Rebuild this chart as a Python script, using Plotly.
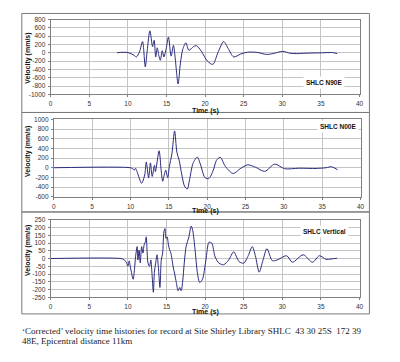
import plotly.graph_objects as go

# ---------------- data ----------------
t_n90e = [8.6, 9.0, 9.5, 10.0, 10.5, 10.8, 11.1, 11.5, 11.9, 12.25, 12.5, 12.85, 13.2, 13.4,
          13.6, 13.8, 14.0, 14.2, 14.45, 14.66, 14.96, 15.25, 15.6, 15.9, 16.1, 16.5, 16.8,
          17.1, 17.5, 17.9, 18.5, 18.9, 19.5, 20.3, 21.0, 21.65, 22.4, 23.0, 23.7, 24.6,
          25.5, 26.7, 28.0, 29.0, 30.0, 31.0, 31.8, 33.0, 35.2, 36.5, 37.1]
v_n90e = [0, 10, 12, 5, -30, -60, -100, 20, 270, -340, 50, 530, 150, 300,
          -100, 120, -60, -180, 50, -100, 100, 380, -80, 180, -80, -750, -250,
          80, 240, 60, 150, 170, 40, -200, -280, 0, 270, 100, -100, -30,
          15, 10, -40, -10, 35, -10, -20, -10, 0, 5, -20]

t_n00e = [0, 10.0, 10.3, 10.5, 10.65, 10.85, 11.45, 11.85, 12.06, 12.36, 12.6, 12.83, 13.13,
          13.25, 13.73, 14.0, 14.2, 14.4, 14.6, 14.85, 15.06, 15.4, 15.75, 16.05, 16.35,
          16.7, 17.04, 17.4, 17.7, 18.15, 18.7, 19.1, 19.7, 20.2, 20.8, 21.2, 21.7, 22.4,
          23.4, 24.3, 25.3, 26.3, 27.5, 28.8, 30.1, 32.0, 34.2, 35.5, 36.2, 37.0]
v_n00e = [0, 0, -20, -50, -10, -80, -320, -150, 120, -210, 100, -180, 50,
          -80, 350, -60, -280, -150, -50, -210, 20, 290, 760, 320, 150,
          -150, -380, -440, -250, 90, 220, 80, -200, -225, -50, 150, 215, 20,
          -120, -20, 60, 10, -75, 75, -20, -10, -15, 0, 20, -40]

t_vert = [0, 9.07, 9.5, 9.83, 10.0, 10.17, 10.34, 10.68, 10.85, 11.0, 11.2, 11.3, 11.45, 11.6,
          11.78, 11.95, 12.1, 12.27, 12.37, 12.5, 12.6, 12.8, 12.97, 13.1, 13.3, 13.43, 13.6,
          13.77, 13.94, 14.15, 14.32, 14.5, 14.66, 14.8, 14.93, 15.08, 15.25, 15.4, 15.57,
          15.85, 16.06, 16.27, 16.5, 16.7, 16.9, 17.1, 17.3, 17.54, 17.9, 18.2, 18.4, 18.7,
          19.0, 19.3, 19.66, 20.1, 20.5, 20.85, 21.3, 21.8, 22.4, 23.05, 23.7, 24.4, 25.0,
          25.6, 26.1, 26.5, 27.0, 27.5, 28.0, 28.7, 29.3, 30.56, 31.3, 32.7, 33.9, 34.8,
          35.65, 36.3, 37.1]
v_vert = [0, 0, -7, -28, -50, -15, -60, -134, -70, 14, 77, -10, 55, -28,
          77, 35, 88, 109, 140, 35, -28, -50, -10, -81, -218, -90, -28,
          24, -50, -187, -10, 35, 172, 193, 130, 140, 88, 56, 35,
          -50, -100, -155, -208, -187, -208, -145, -28, 77, 140, 210, 180, 56,
          -92, -155, -134, -10, 105, 100, 10, -30, -40, -10, 43, -20, -30,
          20, 77, 20, -88, -10, 64, -14, -10, 18, -24, 24, -24, 18,
          -5, -3, 2]

x_ticks = [0, 5, 10, 15, 20, 25, 30, 35, 40]
y1_ticks = [800, 600, 400, 200, 0, -200, -400, -600, -800, -1000]
y2_ticks = [1000, 800, 600, 400, 200, 0, -200, -400, -600]
y3_ticks = [250, 200, 150, 100, 50, 0, -50, -100, -150, -200, -250]

labels = ["SHLC N90E", "SHLC N00E", "SHLC Vertical"]
caption1 = "\u2018Corrected\u2019 velocity time histories for record at Site Shirley Library SHLC  43 30 25S  172 39"
caption2 = "48E, Epicentral distance 11km"

# ---------------- layout helpers ----------------
# The page body keeps its default 8px margin, so the figure is sized to fit
# the 400x362 window after that offset, and page pixels are mapped accordingly.
OFF = 8
W, H = 400 - OFF, 362 - OFF
def px(x):
    return (x - OFF) / W
def py(y):
    return 1 - (y - OFF) / H

LINE = "#2b2b7e"
GRID = "#c4c4c4"
TICKFONT = dict(family="Liberation Sans, Arial", size=6.5, color="#333333")

panels = [
    dict(t=t_n90e, v=v_n90e, yt=y1_ticks, yr=[-1000, 800], xd=[49.3, 363], yd=[15.7, 92],
         box=[9.5, 110.5], ttl_y=109.3, vel_y=55, lab=(327, 80)),
    dict(t=t_n00e, v=v_n00e, yt=y2_ticks, yr=[-600, 1000], xd=[52.5, 364], yd=[117.5, 196.5],
         box=[110.5, 212], ttl_y=211.3, vel_y=150, lab=(341, 125)),
    dict(t=t_vert, v=v_vert, yt=y3_ticks, yr=[-250, 250], xd=[49.3, 363], yd=[220, 299],
         box=[212, 316], ttl_y=314.3, vel_y=251, lab=(327, 232)),
]

fig = go.Figure()
shapes = []
annotations = []
for i, p in enumerate(panels, start=1):
    xa = "x" if i == 1 else f"x{i}"
    ya = "y" if i == 1 else f"y{i}"
    fig.add_trace(go.Scatter(x=p["t"], y=p["v"], mode="lines", xaxis=xa, yaxis=ya,
                             line=dict(color=LINE, width=1, shape="spline", smoothing=0.8),
                             showlegend=False, hoverinfo="skip"))
    xkey = "xaxis" if i == 1 else f"xaxis{i}"
    ykey = "yaxis" if i == 1 else f"yaxis{i}"
    fig.update_layout(**{
        xkey: dict(domain=[px(p["xd"][0]), px(p["xd"][1])], range=[0, 40],
                   tickvals=x_ticks, ticktext=[str(v) for v in x_ticks],
                   showgrid=True, gridcolor=GRID, gridwidth=1, zeroline=False,
                   showline=True, linecolor="#808080", linewidth=1, mirror=True,
                   ticks="outside", ticklen=2, tickcolor="#808080",
                   ticklabelstandoff=1, tickfont=TICKFONT,
                   anchor=ya, fixedrange=True),
        ykey: dict(domain=[py(p["yd"][1]), py(p["yd"][0])], range=p["yr"],
                   tickvals=p["yt"], ticktext=[str(v) for v in p["yt"]],
                   showgrid=True, gridcolor=GRID, gridwidth=1, zeroline=False,
                   showline=True, linecolor="#808080", linewidth=1, mirror=True,
                   ticks="outside", ticklen=2, tickcolor="#808080",
                   ticklabelstandoff=1, tickfont=TICKFONT,
                   anchor=xa, fixedrange=True),
    })
    shapes.append(dict(type="rect", xref="paper", yref="paper",
                       x0=px(20), x1=px(373), y0=py(p["box"][1]), y1=py(p["box"][0]),
                       line=dict(color="#7a7a7a", width=1), fillcolor="rgba(0,0,0,0)"))
    annotations.append(dict(text="<b>Time (s)</b>", xref="paper", yref="paper",
                            x=px(207), y=py(p["ttl_y"]), xanchor="center", yanchor="middle",
                            showarrow=False,
                            font=dict(family="Liberation Sans, Arial", size=7, color="#111111")))
    annotations.append(dict(text="<b>Velocity (mm/s)</b>", xref="paper", yref="paper",
                            x=px(26), y=py(p["vel_y"]), xanchor="center", yanchor="middle",
                            textangle=-90, showarrow=False,
                            font=dict(family="Liberation Sans, Arial", size=7, color="#111111")))
    annotations.append(dict(text="<b>" + labels[i - 1] + "</b>", xref="paper", yref="paper",
                            x=px(p["lab"][0]), y=py(p["lab"][1]), xanchor="center",
                            yanchor="middle", showarrow=False, bgcolor="white", borderpad=2,
                            font=dict(family="Liberation Sans Narrow, Liberation Sans, Arial",
                                      size=6.5, color="#111111")))

annotations.append(dict(text=caption1, xref="paper", yref="paper", x=px(18), y=py(333),
                        xanchor="left", yanchor="middle", showarrow=False,
                        font=dict(family="Liberation Serif, Times New Roman", size=9,
                                  color="#222222")))
annotations.append(dict(text=caption2, xref="paper", yref="paper", x=px(18), y=py(343.5),
                        xanchor="left", yanchor="middle", showarrow=False,
                        font=dict(family="Liberation Serif, Times New Roman", size=9,
                                  color="#222222")))

fig.update_layout(width=W, height=H, margin=dict(l=0, r=0, t=0, b=0),
                  paper_bgcolor="white", plot_bgcolor="white",
                  shapes=shapes, annotations=annotations, showlegend=False)

fig.write_html("out.html", config={"displayModeBar": False})
